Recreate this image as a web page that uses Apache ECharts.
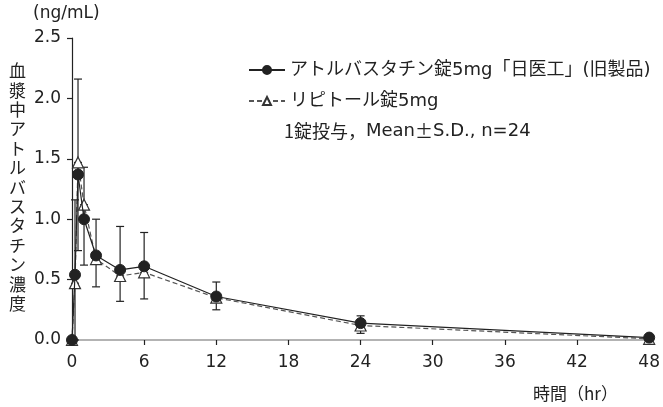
<!DOCTYPE html>
<html>
<head>
<meta charset="utf-8">
<script src="https://cdn.jsdelivr.net/npm/echarts@6/dist/echarts.min.js"></script>
<style>
  html, body { margin: 0; padding: 0; background: #fff; }
  #chart { width: 663px; height: 407px; }
</style>
</head>
<body>
<div id="chart"></div>
<script>
// 採血時間 (hr)
const times = [0, 0.25, 0.5, 1, 2, 4, 6, 12, 24, 48];
// アトルバスタチン錠5mg「日医工」
const genericMean = [0, 0.54, 1.37, 1.00, 0.70, 0.58, 0.61, 0.36, 0.14, 0.02];
const genericSD = [0, 0.62, 0.79, 0.43, 0.30, 0.36, 0.28, 0.12, 0.06, 0.01];
// リピトール錠5mg
const lipitorMean = [0, 0.47, 1.47, 1.12, 0.67, 0.53, 0.56, 0.35, 0.12, 0.01];
const lipitorSD = [0, 0.50, 0.73, 0.50, 0.23, 0.21, 0.22, 0.10, 0.065, 0.01];

const seriesNames = ['アトルバスタチン錠5mg「日医工」(旧製品)', 'リピトール錠5mg'];

const font = '"DejaVu Sans", "Noto Sans CJK JP", sans-serif';
const cjk = '"Noto Sans CJK JP", sans-serif';
const ink = '#222';

// 平均値 + S.D.（上向き）/ 平均値 - S.D.（下向き）
const genericBars = times.map((t, i) => [t, genericMean[i], genericMean[i] + genericSD[i]]);
const lipitorBars = times.map((t, i) => [t, Math.max(0, lipitorMean[i] - lipitorSD[i]), lipitorMean[i]]);

function errorBar(params, api) {
    const x = api.value(0);
    const lo = api.coord([x, api.value(1)]);
    const hi = api.coord([x, api.value(2)]);
    const w = 4;
    const style = { stroke: ink, lineWidth: 1.2 };
    return {
        type: 'group',
        children: [
            { type: 'line', shape: { x1: lo[0], y1: lo[1], x2: hi[0], y2: hi[1] }, style: style },
            { type: 'line', shape: { x1: hi[0] - w, y1: hi[1], x2: hi[0] + w, y2: hi[1] }, style: style },
            { type: 'line', shape: { x1: lo[0] - w, y1: lo[1], x2: lo[0] + w, y2: lo[1] }, style: style }
        ]
    };
}

var myChart = echarts.init(document.getElementById('chart'));
const options = {
    animation: false,
    textStyle: { fontFamily: font, color: ink },
    grid: { left: 72, right: 13, top: 38, bottom: 67 },
    legend: {
        orient: 'vertical',
        left: 243,
        top: 56,
        itemWidth: 36,
        itemHeight: 10,
        itemGap: 13,
        textStyle: { fontSize: 18, color: ink, fontFamily: font },
        data: [seriesNames[0], seriesNames[1]]
    },
    xAxis: {
        type: 'value',
        min: 0,
        max: 48,
        interval: 6,
        axisLine: { lineStyle: { color: '#9a9a9a', width: 1.5 } },
        axisTick: { length: 5, lineStyle: { color: ink, width: 1.2 } },
        axisLabel: { fontSize: 17, color: ink, margin: 14 },
        splitLine: { show: false }
    },
    yAxis: {
        type: 'value',
        min: 0,
        max: 2.5,
        interval: 0.5,
        axisLine: { show: true, lineStyle: { color: ink, width: 1.2 } },
        axisTick: { show: true, length: 5, lineStyle: { color: ink, width: 1.2 } },
        axisLabel: { fontSize: 17, color: ink, margin: 11, formatter: v => v.toFixed(1) },
        splitLine: { show: false }
    },
    graphic: [
        {
            type: 'text',
            left: 33,
            top: 5,
            style: { text: '(ng/mL)', font: '17px ' + font, fill: ink }
        },
        {
            type: 'text',
            left: 9,
            top: 61,
            style: {
                text: '血漿中アトルバスタチン濃度'.split('').join('\n'),
                font: '17px ' + cjk,
                lineHeight: 19.4,
                fill: ink,
                align: 'center'
            }
        },
        {
            type: 'text',
            left: 533,
            top: 385,
            style: { text: '時間（hr）', font: '17px ' + cjk, fill: ink }
        },
        {
            type: 'text',
            left: 284,
            top: 122,
            style: {
                text: '{a|1錠投与，}{b|Mean}{a|±}{b|S.D., n=24}',
                fill: ink,
                rich: {
                    a: { font: '18px ' + cjk, fill: ink },
                    b: { font: '18px ' + font, fill: ink }
                }
            }
        }
    ],
    series: [
        {
            type: 'custom',
            renderItem: errorBar,
            data: lipitorBars,
            z: 1,
            silent: true
        },
        {
            type: 'custom',
            renderItem: errorBar,
            data: genericBars,
            z: 1,
            silent: true
        },
        {
            name: seriesNames[1],
            type: 'line',
            data: times.map((t, i) => [t, lipitorMean[i]]),
            symbol: 'triangle',
            symbolSize: 11,
            showAllSymbol: true,
            lineStyle: { color: '#555', width: 1.2, type: [5, 3] },
            itemStyle: { color: '#fff', borderColor: '#333', borderWidth: 1.2 },
            z: 2
        },
        {
            name: seriesNames[0],
            type: 'line',
            data: times.map((t, i) => [t, genericMean[i]]),
            symbol: 'circle',
            symbolSize: 11,
            showAllSymbol: true,
            lineStyle: { color: ink, width: 1.2 },
            itemStyle: { color: '#222', borderColor: '#222', borderWidth: 1 },
            z: 3
        }
    ]
};
myChart.setOption(options);
</script>
</body>
</html>
